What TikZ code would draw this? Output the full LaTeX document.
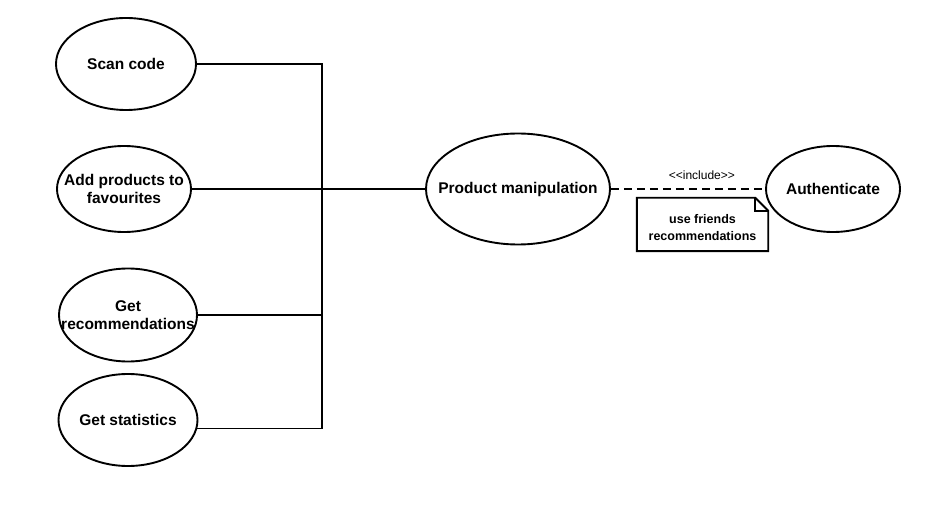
\documentclass[tikz,border=0pt]{standalone}
\usepackage{fontspec}
\setmainfont{Liberation Sans}
\usetikzlibrary{shapes.geometric}

\begin{document}
\begin{tikzpicture}[x=1pt,y=-1pt,
 usecase/.style={ellipse,draw,line width=1.9pt,inner sep=0pt,align=center,font=\fontsize{15.5}{18}\selectfont\bfseries},
 memo/.style={inner sep=0pt,minimum width=131pt,minimum height=53pt,align=center,font=\fontsize{12.5}{15.5}\selectfont\bfseries},
 wire/.style={line width=1.9pt}]
 \useasboundingbox (0,0) rectangle (941,526);
 % use cases on the left
 \node[usecase,minimum width=140pt,minimum height=92pt] (scan) at (126,64) {\makebox[0pt]{Scan code}};
 \node[usecase,minimum width=134pt,minimum height=86pt] (fav) at (124,189) {\makebox[0pt]{Add products to}\\\makebox[0pt]{favourites}};
 \node[usecase,minimum width=138pt,minimum height=93pt] (rec) at (128,315) {\makebox[0pt]{Get}\\\makebox[0pt]{recommendations}};
 \node[usecase,minimum width=139pt,minimum height=92pt] (stats) at (128,420) {\makebox[0pt]{Get statistics}};
 % right part
 \node[usecase,minimum width=184pt,minimum height=111pt] (prod) at (518,189) {\makebox[0pt]{Product manipulation}};
 \node[usecase,minimum width=134pt,minimum height=86pt] (auth) at (833,189) {\makebox[0pt]{Authenticate}};
 \node[memo] (note) at (702.5,224.5) {\raisebox{-7.5pt}[0pt][0pt]{\begin{tabular}{@{}c@{}}use friends\\[1pt]recommendations\end{tabular}}};
 %
 \coordinate (bus) at (322,0);
 \draw[wire] (scan.east) -- (scan.east -| bus) -- (stats.-7.5 -| bus) -- (stats.-7.5);
 \draw[wire] (rec.east) -- (rec.east -| bus);
 \draw[wire] (fav.east) -- (prod.west);
 \draw[wire,dash pattern=on 8pt off 5pt] (prod.east) -- node[pos=0.59,above=5pt,font=\fontsize{12}{14}\selectfont]{<\kern0pt<include>\kern0pt>} (auth.west);
 %
 \draw[wire,line join=miter] ([xshift=-13pt]note.north east) -- (note.north west) -- (note.south west)
  -- (note.south east) -- ([yshift=-13pt]note.north east) -- cycle;
 \draw[wire] ([xshift=-13pt]note.north east) |- ([yshift=-13pt]note.north east);
\end{tikzpicture}
\end{document}
